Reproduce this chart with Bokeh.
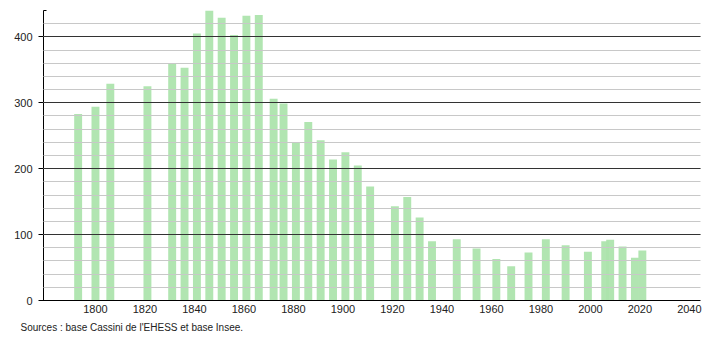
from bokeh.plotting import figure
from bokeh.models import SingleIntervalTicker, FixedTicker, Range1d, Title, ColumnDataSource
from bokeh.embed import file_html
from bokeh.resources import INLINE

years = [1793, 1800, 1806, 1821, 1831, 1836, 1841, 1846, 1851, 1856, 1861, 1866,
         1872, 1876, 1881, 1886, 1891, 1896, 1901, 1906, 1911, 1921, 1926, 1931,
         1936, 1946, 1954, 1962, 1968, 1975, 1982, 1990, 1999, 2006, 2008, 2013,
         2018, 2021]
population = [283, 294, 329, 325, 360, 353, 405, 441, 429, 403, 432, 433,
              306, 299, 240, 271, 243, 214, 225, 205, 173, 143, 157, 126,
              90, 93, 79, 63, 52, 73, 93, 84, 74, 90, 92, 82,
              65, 76]
x_ticks = [1800, 1820, 1840, 1860, 1880, 1900, 1920, 1940, 1960, 1980, 2000, 2020, 2040]
source_text = "Sources : base Cassini de l'EHESS et base Insee."

FONT = "Liberation Sans"

src = ColumnDataSource(dict(x=years, top=population))

p = figure(width=710, height=340, output_backend="svg", toolbar_location=None,
           x_range=Range1d(1779, 2044.5), y_range=Range1d(0, 440),
           min_border_left=43, min_border_right=10, min_border_top=10,
           min_border_bottom=40)
p.outline_line_color = None
p.background_fill_color = "white"
p.border_fill_color = "white"

p.vbar(x="x", top="top", width=3.2, bottom=0, source=src,
       fill_color="#ade4ad", line_color=None, fill_alpha=0.95)

p.yaxis.ticker = SingleIntervalTicker(interval=100, num_minor_ticks=5)
p.xaxis.ticker = FixedTicker(ticks=x_ticks)

p.ygrid.grid_line_color = "#333333"
p.ygrid.grid_line_width = 1
p.ygrid.minor_grid_line_color = "#c8c8c8"
p.ygrid.minor_grid_line_width = 1
p.ygrid.level = "overlay"
p.xgrid.grid_line_color = None

for ax in (p.xaxis, p.yaxis):
    ax.major_label_text_font = FONT
    ax.major_label_text_font_size = "11px"
    ax.major_label_text_color = "#222222"
    ax.axis_line_color = "black"
    ax.major_tick_line_color = "black"
    ax.minor_tick_line_color = "black"

p.xaxis.major_tick_out = 0
p.xaxis.major_tick_in = 0
p.xaxis.minor_tick_out = 0
p.xaxis.minor_tick_in = 0
p.xaxis.major_label_standoff = 4

p.yaxis.major_tick_out = 5
p.yaxis.major_tick_in = 4
p.yaxis.minor_tick_out = 0
p.yaxis.minor_tick_in = 3
p.yaxis.major_label_standoff = 6

p.add_layout(Title(text=source_text, align="left", offset=-23,
                   text_font=FONT, text_font_size="10px",
                   text_font_style="normal", text_color="#222222",
                   standoff=8), "below")

open("out.html", "w").write(file_html(p, INLINE))
